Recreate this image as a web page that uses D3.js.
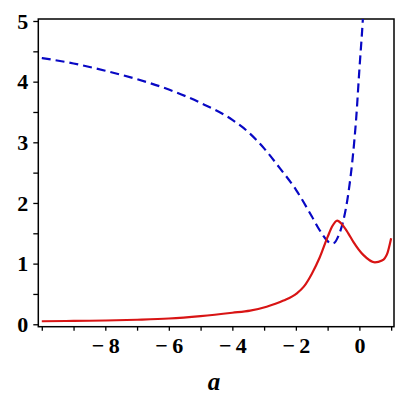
<!DOCTYPE html>
<meta charset="utf-8">
<head>
<script src="https://d3js.org/d3.v7.min.js"></script>
<style>
  body { margin: 0; background: #fff; }
  .axis text { font-family: "Liberation Serif", "Times New Roman", Times, serif; font-weight: bold; font-size: 22px; fill: #000; }
  .axis line { stroke: #000; stroke-width: 1.3; }
</style>
</head>
<body>
<svg id="chart" width="400" height="400"></svg>
<script>
// blue dashed curve
var blueA = [-10, -9, -8, -7, -6, -5, -4, -3.5, -3, -2.5, -2, -1.5, -1.25, -1, -0.9, -0.8, -0.65, -0.5, -0.35, -0.2, -0.1, 0, 0.1, 0.15];
var blueY = [4.39, 4.30, 4.18, 4.04, 3.87, 3.65, 3.37, 3.17, 2.90, 2.57, 2.22, 1.78, 1.55, 1.37, 1.33, 1.34, 1.47, 1.72, 2.15, 2.8, 3.4, 4.2, 4.95, 5.4];

// red solid curve
var redA = [-10, -9, -8, -7, -6, -5, -4, -3.44, -2.92, -2.39, -1.97, -1.75, -1.5, -1.25, -1, -0.85, -0.7, -0.55, -0.35, -0.19, 0.13, 0.49, 0.71, 0.88, 1];
var redY = [0.05, 0.055, 0.062, 0.075, 0.095, 0.135, 0.19, 0.225, 0.29, 0.39, 0.51, 0.62, 0.83, 1.10, 1.44, 1.62, 1.71, 1.65, 1.50, 1.36, 1.14, 1.02, 1.05, 1.17, 1.42];

var xTicks = [-10, -9, -8, -7, -6, -5, -4, -3, -2, -1, 0, 1];
var xLabels = [-8, -6, -4, -2, 0];
var yTicks = [0, 0.5, 1, 1.5, 2, 2.5, 3, 3.5, 4, 4.5, 5];
var yLabels = [0, 1, 2, 3, 4, 5];

var svg = d3.select("#chart");
var mLeft = 38.3, mRight = 394, mTop = 19, mBottom = 326.7;

var x = d3.scaleLinear().domain([-10.11, 1.09]).range([mLeft, mRight]);
var y = d3.scaleLinear().domain([-0.04, 5.033]).range([mBottom, mTop]);

svg.append("clipPath").attr("id", "clip")
  .append("rect").attr("x", mLeft).attr("y", mTop)
  .attr("width", mRight - mLeft).attr("height", mBottom - mTop);

function fmt(d) {
  return d < 0 ? "\u2212\u2009" + Math.abs(d) : "" + d;
}

// x axis
var gx = svg.append("g").attr("class", "axis")
  .attr("transform", "translate(0," + mBottom + ")")
  .call(d3.axisBottom(x).tickValues(xTicks).tickSize(4).tickPadding(7)
    .tickFormat(function (d) { return xLabels.indexOf(d) >= 0 ? fmt(d) : ""; }));
gx.select(".domain").remove();

// y axis
var gy = svg.append("g").attr("class", "axis")
  .attr("transform", "translate(" + mLeft + ",0)")
  .call(d3.axisLeft(y).tickValues(yTicks).tickSize(5).tickPadding(5)
    .tickFormat(function (d) { return yLabels.indexOf(d) >= 0 ? d : ""; }));
gy.select(".domain").remove();

// frame
svg.append("rect")
  .attr("x", mLeft).attr("y", mTop)
  .attr("width", mRight - mLeft).attr("height", mBottom - mTop)
  .attr("fill", "none").attr("stroke", "#000").attr("stroke-width", 1.5);

var line = d3.line().curve(d3.curveMonotoneX);

var plot = svg.append("g").attr("clip-path", "url(#clip)");

plot.append("path")
  .attr("d", line(blueA.map(function (a, i) { return [x(a), y(blueY[i])]; })))
  .attr("fill", "none").attr("stroke", "#0808c4").attr("stroke-width", 2.2)
  .attr("stroke-dasharray", "9,5");

plot.append("path")
  .attr("d", line(redA.map(function (a, i) { return [x(a), y(redY[i])]; })))
  .attr("fill", "none").attr("stroke", "#d81414").attr("stroke-width", 2.2);

// axis title
svg.append("text")
  .attr("x", 214).attr("y", 390)
  .attr("text-anchor", "middle")
  .style("font-family", "'Liberation Serif', 'Times New Roman', serif")
  .style("font-weight", "bold").style("font-style", "italic")
  .style("font-size", "25px")
  .text("a");
</script>
</body>
